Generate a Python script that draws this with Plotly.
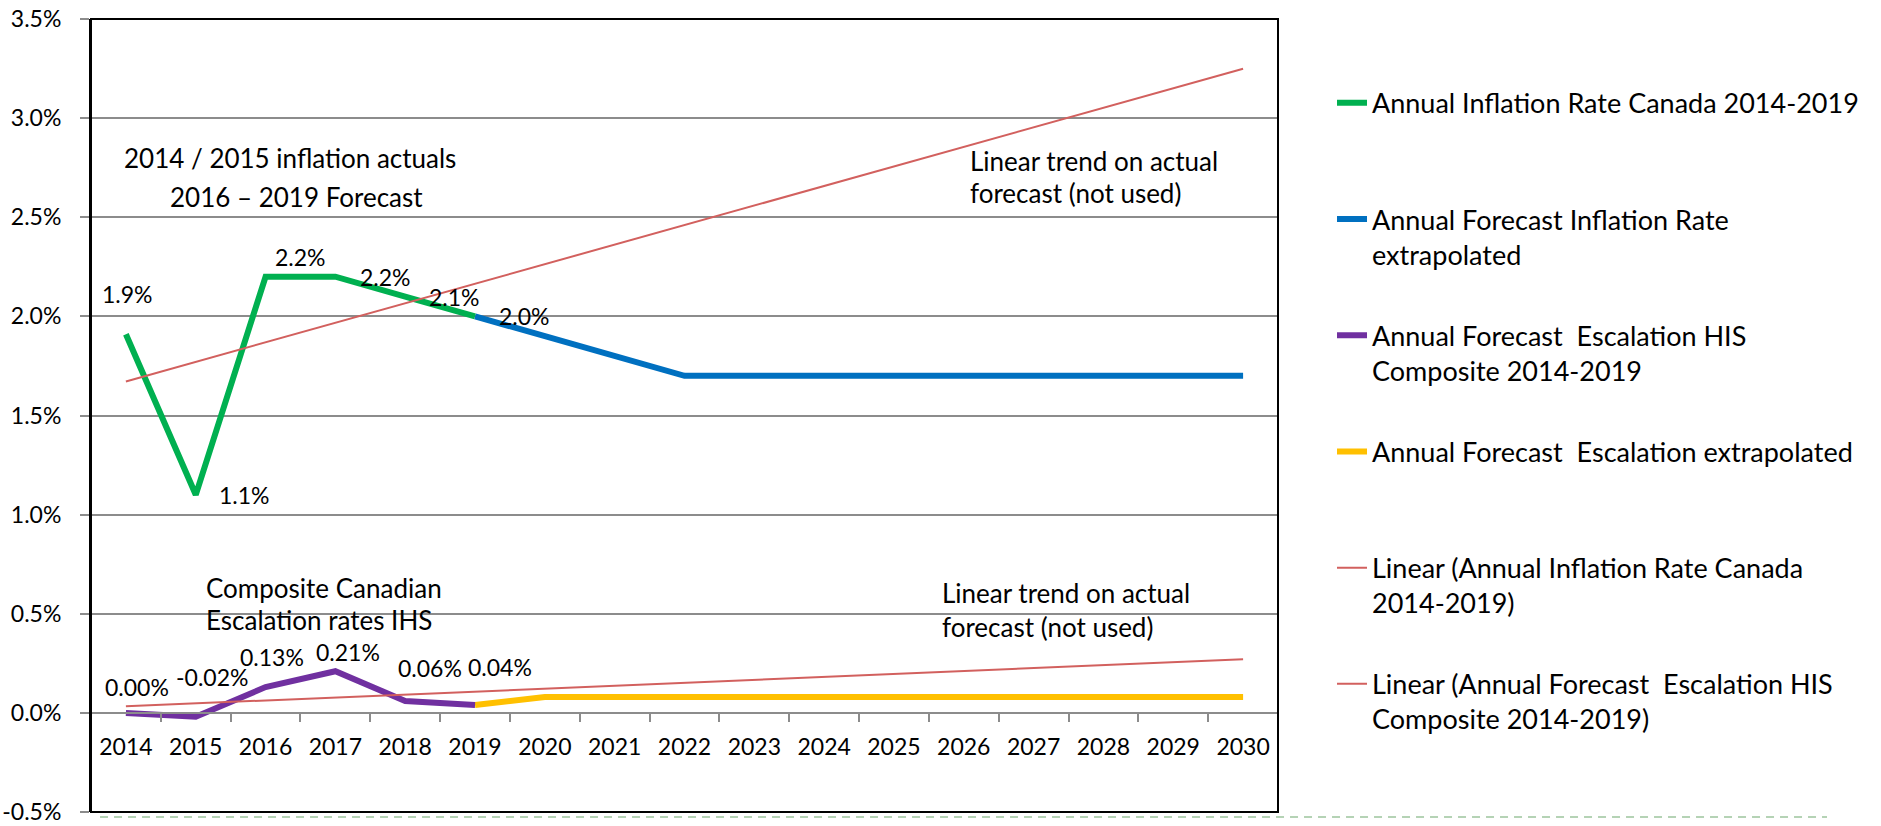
import numpy as np
import plotly.graph_objects as go

# ---- data -------------------------------------------------------------
years = [str(y) for y in range(2014, 2031)]

inflation_years = ["2014", "2015", "2016", "2017", "2018", "2019"]
inflation_actual = [1.91, 1.10, 2.20, 2.20, 2.10, 2.00]

inflation_extrap_years = ["2019", "2020", "2021", "2022", "2023", "2024",
                          "2025", "2026", "2027", "2028", "2029", "2030"]
inflation_extrap = [2.00, 1.90, 1.80, 1.70, 1.70, 1.70,
                    1.70, 1.70, 1.70, 1.70, 1.70, 1.70]

escalation_years = ["2014", "2015", "2016", "2017", "2018", "2019"]
escalation_ihs = [0.00, -0.02, 0.13, 0.21, 0.06, 0.04]

escalation_extrap_years = ["2019", "2020", "2021", "2022", "2023", "2024",
                           "2025", "2026", "2027", "2028", "2029", "2030"]
escalation_extrap = [0.04, 0.08, 0.08, 0.08, 0.08, 0.08,
                     0.08, 0.08, 0.08, 0.08, 0.08, 0.08]

y_tick_values = [-0.5, 0.0, 0.5, 1.0, 1.5, 2.0, 2.5, 3.0, 3.5]
y_tick_labels = [f"{v:.1f}%" for v in y_tick_values]

# ---- styling ----------------------------------------------------------
FONT = "Lato"
GREEN, BLUE, PURPLE, YELLOW, TREND = "#00B050", "#0070C0", "#7030A0", "#FFC000", "#D2605E"
GRID = "#8C8C8C"
TICK_SIZE, LABEL_SIZE, NOTE_SIZE, LEGEND_SIZE = 23, 23, 26, 27

# label offsets (px) for the value labels
inflation_label_shift = [(2, 40), (49, 0), (35, 20), (50, 0), (49, 0), (49, 0)]
escalation_label_shift = [(11, 26), (16, 40), (6, 30), (13, 19), (25, 33), (25, 38)]

# ---- linear trends (least squares over 2014-2019, extended to 2030) ----
idx_fit = np.arange(len(inflation_actual))
idx_all = np.arange(len(years))
infl_trend = np.polyval(np.polyfit(idx_fit, inflation_actual, 1), idx_all)
esc_trend = np.polyval(np.polyfit(idx_fit, escalation_ihs, 1), idx_all)

fig = go.Figure()

series = [
    ("Annual Inflation Rate Canada 2014-2019<br> ", inflation_years, inflation_actual, GREEN, 6),
    ("Annual Forecast Inflation Rate<br>extrapolated", inflation_extrap_years, inflation_extrap, BLUE, 6),
    ("Annual Forecast  Escalation HIS<br>Composite 2014-2019", escalation_years, escalation_ihs, PURPLE, 6),
    ("Annual Forecast  Escalation extrapolated<br> ", escalation_extrap_years, escalation_extrap, YELLOW, 6),
    ("Linear (Annual Inflation Rate Canada<br>2014-2019)", years, infl_trend, TREND, 2),
    ("Linear (Annual Forecast  Escalation HIS<br>Composite 2014-2019)", years, esc_trend, TREND, 2),
]
# draw order: main series first, trends on top; legend order kept via legendrank
draw_order = [1, 3, 0, 2, 4, 5]
for k in draw_order:
    name, xs, ys, col, w = series[k]
    fig.add_trace(go.Scatter(
        x=xs, y=list(ys), mode="lines", name=name,
        line=dict(color=col, width=w),
        legendgroup=f"g{k}", legendrank=k + 1,
        hoverinfo="skip",
    ))

annotations = []


def value_labels(xs, vals, shifts, fmt):
    for x, v, (dx, dy) in zip(xs, vals, shifts):
        annotations.append(dict(x=years.index(x), y=v, xref="x", yref="y",
                                text=fmt.format(v), showarrow=False,
                                xshift=dx, yshift=dy,
                                xanchor="center", yanchor="middle",
                                font=dict(family=FONT, size=LABEL_SIZE, color="black")))


value_labels(inflation_years, inflation_actual, inflation_label_shift, "{:.1f}%")
value_labels(escalation_years, escalation_ihs, escalation_label_shift, "{:.2f}%")

# free text notes (paper coordinates)
notes = [
    ("2014 / 2015 inflation actuals", 0.0261, 0.8247),
    ("2016 – 2019 Forecast", 0.0649, 0.7755),
    ("Linear trend on actual", 0.7388, 0.8209),
    ("forecast (not used)", 0.7388, 0.7806),
    ("Composite Canadian", 0.0952, 0.2830),
    ("Escalation rates IHS", 0.0952, 0.2420),
    ("Linear trend on actual", 0.7153, 0.2762),
    ("forecast (not used)", 0.7153, 0.2333),
]
for txt, px, py in notes:
    annotations.append(dict(x=px, y=py, xref="paper", yref="paper", text=txt,
                            showarrow=False, xanchor="left", yanchor="middle",
                            font=dict(family=FONT, size=NOTE_SIZE, color="black")))

shapes = [
    # plot frame
    dict(type="rect", xref="paper", yref="paper", x0=0, x1=1, y0=0, y1=1,
         line=dict(color="black", width=2), layer="above"),
    # dashed separator under the chart
    dict(type="line", xref="paper", yref="paper", x0=0.0076, x1=1.4625,
         y0=-0.0063, y1=-0.0063, line=dict(color="#B5D3B5", width=2, dash="8px,6px")),
]

fig.update_layout(
    width=1881, height=826,
    margin=dict(l=91, r=603, t=19, b=14),
    paper_bgcolor="white", plot_bgcolor="white",
    font=dict(family=FONT, size=TICK_SIZE, color="black"),
    showlegend=True,
    legend=dict(x=1.0455, y=0.9246, xanchor="left", yanchor="top",
                valign="top", tracegroupgap=43,
                font=dict(family=FONT, size=LEGEND_SIZE, color="black"),
                bgcolor="rgba(0,0,0,0)"),
    xaxis=dict(type="category", categoryorder="array", categoryarray=years,
               range=[-0.5, len(years) - 0.5],
               anchor="free", position=0.125, automargin=False,
               showline=True, linecolor=GRID, linewidth=2,
               ticks="outside", tickson="boundaries", ticklen=8,
               tickcolor=GRID, tickwidth=2, showgrid=False,
               tickfont=dict(family=FONT, size=TICK_SIZE), ticklabelstandoff=14),
    yaxis=dict(range=[-0.5, 3.5], tickvals=y_tick_values, ticktext=y_tick_labels,
               automargin=False,
               showgrid=True, gridcolor=GRID, gridwidth=2, zeroline=False,
               showline=True, linecolor="black", linewidth=2,
               ticks="outside", ticklen=9, tickcolor=GRID, tickwidth=2,
               tickfont=dict(family=FONT, size=TICK_SIZE), ticklabelstandoff=14),
    annotations=annotations,
    shapes=shapes,
)

fig.write_html("out.html")
